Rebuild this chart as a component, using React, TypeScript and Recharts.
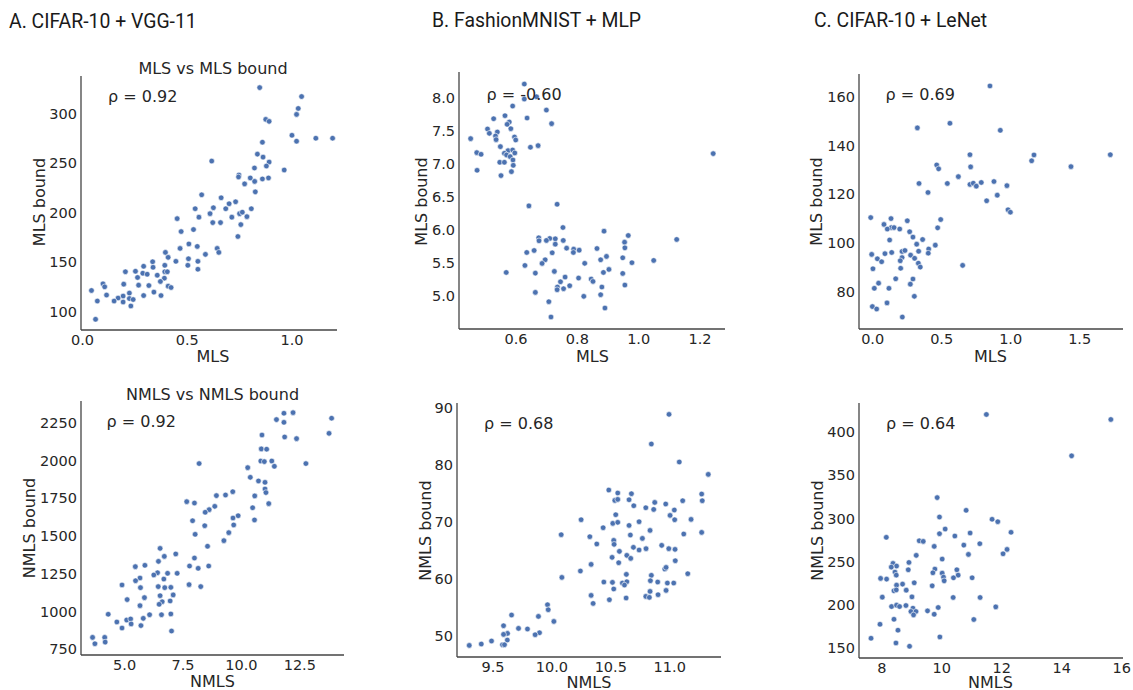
import { ScatterChart, Scatter, XAxis, YAxis } from 'recharts';

// A. CIFAR-10 + VGG-11, [MLS, MLS bound]
const vggMls: [number, number][] = [
  [0.846, 326], [1.046, 317], [1.03, 305], [1.022, 299], [0.875, 294], [0.891, 292], [1.0, 278], [1.114, 275],
  [1.194, 275], [1.022, 272], [0.859, 271], [0.835, 259], [0.862, 256], [0.891, 251], [0.878, 247], [0.617, 252],
  [0.821, 245], [0.963, 243], [0.747, 238], [0.745, 236], [0.801, 235], [0.822, 231.5], [0.859, 234], [0.888, 235],
  [0.774, 229], [0.825, 221], [0.569, 218], [0.662, 215], [0.731, 211], [0.7, 209], [0.625, 205], [0.538, 204],
  [0.684, 204], [0.806, 204], [0.609, 199], [0.75, 199], [0.763, 200.5], [0.785, 196], [0.713, 195.5], [0.556, 195.5],
  [0.452, 194], [0.622, 190], [0.659, 190], [0.756, 188], [0.53, 183], [0.471, 181], [0.742, 176], [0.508, 168.5],
  [0.548, 166], [0.643, 164], [0.466, 164], [0.396, 160], [0.587, 158], [0.651, 160], [0.409, 155], [0.506, 153.6],
  [0.551, 151], [0.446, 151], [0.335, 150.6], [0.503, 147], [0.393, 147], [0.292, 146], [0.551, 143], [0.337, 145],
  [0.205, 140.5], [0.253, 141], [0.393, 140.5], [0.405, 140.5], [0.288, 139], [0.309, 138], [0.357, 137], [0.391, 134],
  [0.263, 134.7], [0.372, 130.7], [0.098, 128.3], [0.197, 128], [0.268, 127], [0.317, 126.6], [0.106, 125.3], [0.409, 126],
  [0.423, 124.6], [0.043, 121.6], [0.341, 120], [0.224, 119], [0.115, 117], [0.292, 116.5], [0.375, 116.5], [0.194, 116],
  [0.17, 114], [0.224, 113.5], [0.242, 112.5], [0.151, 111], [0.071, 111], [0.194, 110], [0.231, 106], [0.0625, 92.6],
];

// B. FashionMNIST + MLP, [MLS, MLS bound]
const fmnistMls: [number, number][] = [
  [0.627, 8.207], [0.627, 7.98], [0.667, 8.015], [0.589, 7.874], [0.699, 7.813], [0.564, 7.728], [0.636, 7.692], [0.527, 7.682],
  [0.578, 7.632], [0.571, 7.597], [0.716, 7.607], [0.507, 7.526], [0.583, 7.531], [0.539, 7.481], [0.513, 7.46], [0.533, 7.42],
  [0.595, 7.405], [0.452, 7.38], [0.535, 7.365], [0.599, 7.36], [0.549, 7.259], [0.672, 7.274], [0.647, 7.249], [0.574, 7.198],
  [0.589, 7.208], [0.472, 7.168], [0.562, 7.158], [0.596, 7.163], [0.486, 7.143], [0.569, 7.133], [0.581, 7.107], [1.243, 7.153],
  [0.59, 7.057], [0.547, 7.022], [0.562, 7.022], [0.591, 6.976], [0.473, 6.9], [0.585, 6.88], [0.551, 6.82], [0.734, 6.386],
  [0.642, 6.361], [0.753, 6.033], [0.887, 5.978], [0.966, 5.912], [0.674, 5.877], [0.71, 5.867], [0.728, 5.862], [1.124, 5.852],
  [0.699, 5.837], [0.675, 5.832], [0.754, 5.837], [0.954, 5.811], [0.728, 5.781], [0.765, 5.72], [0.864, 5.715], [0.955, 5.725],
  [0.788, 5.705], [0.806, 5.69], [0.659, 5.685], [0.635, 5.655], [0.718, 5.65], [0.787, 5.655], [0.895, 5.595], [0.948, 5.574],
  [0.695, 5.544], [0.876, 5.544], [1.049, 5.534], [0.685, 5.489], [0.978, 5.5], [0.824, 5.49], [0.629, 5.458], [0.903, 5.398],
  [0.568, 5.352], [0.725, 5.368], [0.885, 5.352], [0.663, 5.342], [0.948, 5.337], [0.76, 5.282], [0.804, 5.267], [0.845, 5.252],
  [0.851, 5.216], [0.745, 5.211], [0.955, 5.161], [0.775, 5.151], [0.88, 5.131], [0.735, 5.131], [0.734, 5.09], [0.755, 5.106],
  [0.663, 5.05], [0.876, 5.015], [0.821, 4.99], [0.707, 4.909], [0.89, 4.813], [0.714, 4.677],
];

// C. CIFAR-10 + LeNet, [MLS, MLS bound]
const lenetMls: [number, number][] = [
  [0.85, 164.4], [0.56, 149.1], [0.324, 147.2], [0.925, 146.2], [0.705, 136.2], [1.169, 136.1], [1.722, 136.2], [1.152, 133.7],
  [0.464, 132], [0.71, 131.2], [1.437, 131.3], [0.478, 130.4], [0.621, 127.2], [0.336, 124.4], [0.541, 124.4], [0.705, 124],
  [0.729, 124.5], [0.787, 124.8], [0.879, 125.2], [0.751, 123.3], [0.973, 123.5], [0.401, 120.7], [0.903, 119.6], [0.826, 117.3],
  [0.981, 113.6], [0.998, 112.6], [-0.014, 110.4], [0.133, 110], [0.493, 109.6], [0.251, 109.1], [0.082, 107.6], [0.135, 106.3],
  [0.155, 106.3], [0.106, 105.7], [0.196, 105.7], [0.471, 106.2], [0.268, 104.6], [0.292, 102.4], [0.123, 101.2], [0.362, 101.4],
  [0.454, 99.1], [0.319, 99.5], [0.213, 96.5], [0.234, 96.9], [0.333, 96.6], [0.406, 97.5], [0.138, 96.1], [0.403, 95.8],
  [-0.007, 95.3], [0.089, 95.6], [0.275, 95], [0.304, 93.7], [0.034, 93.5], [0.213, 94], [0.065, 92.3], [0.2, 92.7],
  [0.331, 91.7], [0.652, 90.8], [0.002, 89.4], [0.203, 89.6], [0.345, 90.1], [0.167, 85.3], [0.292, 85.2], [0.043, 83.5],
  [0.273, 83.1], [0.012, 81.4], [0.118, 81.4], [0.302, 78.1], [0.104, 75.4], [-0.002, 73.9], [0.029, 72.9], [0.215, 69.6],
];

// A. CIFAR-10 + VGG-11, [NMLS, NMLS bound]
const vggNmls: [number, number][] = [
  [12.21, 2316], [11.82, 2312], [11.5, 2270], [13.86, 2279], [11.82, 2252], [10.88, 2168], [13.75, 2179], [11.85, 2155],
  [12.36, 2144], [10.85, 2076], [11.08, 2074], [8.19, 1979], [12.76, 1979], [10.83, 1996], [10.98, 1992], [11.3, 1996],
  [11.41, 1961], [10.27, 1952], [10.38, 1888], [10.73, 1864], [11.01, 1855], [11.01, 1811], [11.05, 1787], [9.63, 1793],
  [9.32, 1771], [8.93, 1767], [10.57, 1765], [7.66, 1727], [7.99, 1718], [11.17, 1714], [8.86, 1696], [8.62, 1674],
  [8.45, 1657], [10.48, 1687], [9.86, 1634], [9.64, 1619], [10.56, 1606], [7.91, 1601], [8.43, 1568], [9.67, 1573],
  [9.46, 1522], [8.02, 1511], [9.25, 1469], [8.55, 1432], [6.52, 1418], [7.19, 1381], [6.7, 1365], [7.99, 1354],
  [6.45, 1332], [5.87, 1306], [5.46, 1297], [7.78, 1301], [8.6, 1301], [8.15, 1286], [6.84, 1253], [7.25, 1253],
  [6.41, 1257], [6.25, 1242], [5.66, 1222], [5.47, 1204], [6.68, 1215], [4.89, 1176], [7.76, 1178], [8.26, 1165],
  [6.44, 1165], [6.72, 1158], [6.98, 1160], [5.68, 1158], [6.52, 1105], [7.08, 1110], [5.85, 1092], [5.11, 1079],
  [6.61, 1065], [6.95, 1070], [6.48, 1048], [5.66, 1039], [4.3, 982], [6.07, 979], [6.58, 979], [6.98, 984],
  [5.8, 955], [4.67, 931], [5.09, 944], [5.26, 951], [5.28, 918], [5.7, 907], [4.89, 891], [7.01, 871],
  [3.63, 829], [4.15, 829], [3.73, 787], [4.17, 798],
];

// B. FashionMNIST + MLP, [NMLS, NMLS bound]
const fmnistNmls: [number, number][] = [
  [10.994, 88.85], [10.844, 83.66], [11.081, 80.51], [11.327, 78.34], [10.483, 75.6], [10.559, 75.08], [10.675, 74.96], [11.271, 74.9],
  [10.534, 73.78], [10.559, 73.96], [10.655, 73.9], [10.873, 73.43], [11.11, 73.73], [11.276, 73.73], [10.966, 73.15], [10.695, 72.85],
  [10.797, 72.5], [10.864, 72.2], [11.039, 72.1], [10.542, 71.28], [11.003, 71.16], [10.248, 70.4], [11.042, 70.4], [11.181, 70.46],
  [10.517, 69.76], [10.559, 69.94], [10.74, 70.05], [10.435, 69.0], [10.655, 69.4], [10.833, 68.53], [10.079, 67.78], [10.666, 67.72],
  [11.119, 67.9], [11.271, 68.18], [10.322, 67.43], [10.768, 67.13], [10.525, 66.78], [10.381, 66.15], [10.528, 66.09], [10.932, 65.91],
  [10.692, 65.56], [10.992, 65.33], [11.045, 65.21], [10.74, 65.1], [10.799, 65.33], [10.573, 64.86], [10.636, 64.16], [10.511, 63.81],
  [10.669, 63.63], [11.047, 63.22], [10.567, 62.87], [10.333, 62.58], [10.958, 61.77], [10.969, 62.05], [10.242, 61.42], [11.153, 60.95],
  [10.632, 60.83], [10.844, 60.66], [10.085, 60.3], [10.441, 59.49], [10.514, 59.43], [10.598, 59.31], [10.636, 59.54], [10.616, 58.96],
  [10.836, 59.72], [10.898, 59.49], [10.98, 59.31], [11.034, 59.31], [10.525, 58.27], [10.833, 57.85], [10.969, 58.02], [10.333, 57.15],
  [10.797, 56.97], [10.827, 56.8], [10.901, 57.27], [10.35, 55.74], [10.488, 56.39], [10.63, 56.69], [9.963, 55.52], [9.969, 54.64],
  [9.658, 53.71], [9.886, 53.47], [10.017, 52.59], [9.59, 51.84], [9.717, 51.37], [9.793, 51.26], [9.624, 50.49], [9.59, 50.32],
  [9.895, 50.61], [9.858, 50.26], [9.622, 49.33], [9.488, 49.16], [9.401, 48.63], [9.299, 48.39], [9.581, 48.51], [9.598, 48.51],
];

// C. CIFAR-10 + LeNet, [NMLS, NMLS bound]
const lenetNmls: [number, number][] = [
  [11.486, 420.5], [15.635, 414.7], [14.327, 372.6], [9.846, 324.2], [10.811, 309.5], [9.923, 301.7], [11.676, 299.1], [11.866, 296.3],
  [10.112, 287.8], [8.15, 278.2], [9.923, 282.4], [10.944, 283.2], [12.308, 284], [9.248, 274.2], [9.381, 273.5], [10.435, 279.7],
  [11.267, 270.8], [10.734, 269.2], [9.747, 267.7], [12.175, 264.2], [12.042, 259.1], [10.888, 258.4], [9.148, 257.3], [10.013, 253],
  [8.905, 249.1], [8.373, 248], [8.492, 244.9], [8.316, 243.7], [8.882, 240.6], [9.77, 241.4], [10.502, 240.6], [8.439, 237.9],
  [9.703, 237.1], [10.013, 236.7], [10.545, 234.4], [8.482, 234.4], [10.056, 232.1], [7.96, 230.6], [8.16, 229.8], [10.389, 231.3],
  [11.011, 231.3], [10.079, 227.8], [9.081, 225.5], [8.692, 224], [8.492, 222.8], [9.68, 222], [8.406, 216.2], [8.482, 217.3],
  [8.815, 217], [8.017, 208.9], [9.005, 209.2], [10.379, 208.5], [11.277, 208.5], [8.326, 198], [8.492, 199.6], [8.592, 198],
  [8.805, 199.2], [9.88, 196.9], [11.799, 197.6], [9.038, 196.1], [8.971, 192.3], [9.138, 192.3], [9.524, 193], [9.058, 188.3],
  [9.747, 189.1], [8.406, 183.3], [11.067, 183], [7.94, 177.5], [8.539, 170.6], [9.936, 162.8], [7.641, 161.3], [8.472, 155.8],
  [8.925, 152],
];

const FONT = '"DejaVu Sans", sans-serif';
const INK = '#262626';

const Dot = (props: any) => (
  <circle cx={props.cx} cy={props.cy} r={2.8} fill="#4C72B0" stroke="#ffffff" strokeWidth={0.6} />
);

interface PanelProps {
  points: [number, number][];
  left: number;
  top: number;
  w: number;
  h: number;
  xDomain: [number, number];
  yDomain: [number, number];
  xTicks: number[];
  yTicks: number[];
  xFmt: (v: number) => string;
  yFmt: (v: number) => string;
}

function Panel({ points, left, top, w, h, xDomain, yDomain, xTicks, yTicks, xFmt, yFmt }: PanelProps) {
  const yw = 70, rm = 12, tm = 10, xh = 30;
  const data = points.map(([x, y]) => ({ x, y }));
  const axisLine = { stroke: '#444', strokeWidth: 1.3 };
  const tick = { fill: INK, fontSize: 14.5, fontFamily: FONT };
  return (
    <div style={{ position: 'absolute', left: left - yw, top: top - tm }}>
      <ScatterChart width={w + yw + rm} height={h + tm + xh} margin={{ top: tm, right: rm, bottom: 0, left: 0 }}>
        <XAxis type="number" dataKey="x" domain={xDomain} ticks={xTicks} allowDataOverflow interval={0}
          tickFormatter={xFmt} tickLine={false} tickSize={0} tickMargin={4.5} axisLine={axisLine} tick={tick} height={xh} />
        <YAxis type="number" dataKey="y" domain={yDomain} ticks={yTicks} allowDataOverflow interval={0}
          tickFormatter={yFmt} tickLine={false} tickSize={0} tickMargin={4} axisLine={axisLine} tick={tick} width={yw} />
        <Scatter data={data} shape={Dot} isAnimationActive={false} />
      </ScatterChart>
    </div>
  );
}

const f1 = (v: number) => v.toFixed(1);
const f0 = (v: number) => String(v);

export default function App() {
  const label = { fontFamily: FONT, fontSize: 16, fill: INK };
  const head = { fontFamily: 'Roboto, sans-serif', fontSize: 19.4, fill: '#1a1a1a' };
  return (
    <div style={{ position: 'absolute', left: 0, top: 0, width: 1133, height: 690, background: '#fff', overflow: 'hidden' }}>
      <Panel points={vggMls} left={81} top={76} w={256} h={254} xDomain={[-0.007, 1.215]} yDomain={[81.8, 337.7]}
        xTicks={[0, 0.5, 1.0]} yTicks={[100, 150, 200, 250, 300]} xFmt={f1} yFmt={f0} />
      <Panel points={fmnistMls} left={459} top={72} w={266} h={257} xDomain={[0.414, 1.2815]} yDomain={[4.495, 8.39]}
        xTicks={[0.6, 0.8, 1.0, 1.2]} yTicks={[5.0, 5.5, 6.0, 6.5, 7.0, 7.5, 8.0]} xFmt={f1} yFmt={f1} />
      <Panel points={lenetMls} left={859} top={74} w={264} h={255} xDomain={[-0.099, 1.814]} yDomain={[64.7, 169.3]}
        xTicks={[0, 0.5, 1.0, 1.5]} yTicks={[80, 100, 120, 140, 160]} xFmt={f1} yFmt={f0} />
      <Panel points={vggNmls} left={81} top={401} w={263} h={254} xDomain={[3.135, 14.39]} yDomain={[712.5, 2393]}
        xTicks={[5, 7.5, 10, 12.5]} yTicks={[750, 1000, 1250, 1500, 1750, 2000, 2250]} xFmt={f1} yFmt={f0} />
      <Panel points={fmnistNmls} left={457} top={403} w={264} h={254} xDomain={[9.195, 11.435]} yDomain={[46.36, 90.84]}
        xTicks={[9.5, 10, 10.5, 11]} yTicks={[50, 60, 70, 80, 90]} xFmt={f1} yFmt={f0} />
      <Panel points={lenetNmls} left={859} top={403} w={264} h={255} xDomain={[7.24, 16.04]} yDomain={[138.4, 433.8]}
        xTicks={[8, 10, 12, 14, 16]} yTicks={[150, 200, 250, 300, 350, 400]} xFmt={f0} yFmt={f0} />

      <svg width={1133} height={690} style={{ position: 'absolute', left: 0, top: 0, pointerEvents: 'none' }}>
        <text x={9} y={27.5} {...head}>A. CIFAR-10 + VGG-11</text>
        <text x={432} y={27} {...head}>B. FashionMNIST + MLP</text>
        <text x={814} y={27} {...head}>C. CIFAR-10 + LeNet</text>

        <text x={213} y={74} textAnchor="middle" {...label}>MLS vs MLS bound</text>
        <text x={212.5} y={399.5} textAnchor="middle" {...label}>NMLS vs NMLS bound</text>

        <text x={108} y={101.5} {...label}>ρ = 0.92</text>
        <text x={486.5} y={100} {...label}>ρ = -0.60</text>
        <text x={885.5} y={100} {...label}>ρ = 0.69</text>
        <text x={106.5} y={427} {...label}>ρ = 0.92</text>
        <text x={484} y={429} {...label}>ρ = 0.68</text>
        <text x={886} y={429} {...label}>ρ = 0.64</text>

        <text x={213} y={362} textAnchor="middle" {...label}>MLS</text>
        <text x={592.5} y={362} textAnchor="middle" {...label}>MLS</text>
        <text x={990.5} y={362} textAnchor="middle" {...label}>MLS</text>
        <text x={212.5} y={687} textAnchor="middle" {...label}>NMLS</text>
        <text x={589} y={688} textAnchor="middle" {...label}>NMLS</text>
        <text x={990.5} y={688} textAnchor="middle" {...label}>NMLS</text>

        <text x={45} y={202} textAnchor="middle" transform="rotate(-90 45 202)" {...label}>MLS bound</text>
        <text x={426.5} y={201.5} textAnchor="middle" transform="rotate(-90 426.5 201.5)" {...label}>MLS bound</text>
        <text x={821.5} y={201.5} textAnchor="middle" transform="rotate(-90 821.5 201.5)" {...label}>MLS bound</text>
        <text x={35} y={528} textAnchor="middle" transform="rotate(-90 35 528)" {...label}>NMLS bound</text>
        <text x={430.5} y={530.5} textAnchor="middle" transform="rotate(-90 430.5 530.5)" {...label}>NMLS bound</text>
        <text x={822.5} y={530.5} textAnchor="middle" transform="rotate(-90 822.5 530.5)" {...label}>NMLS bound</text>
      </svg>
    </div>
  );
}
